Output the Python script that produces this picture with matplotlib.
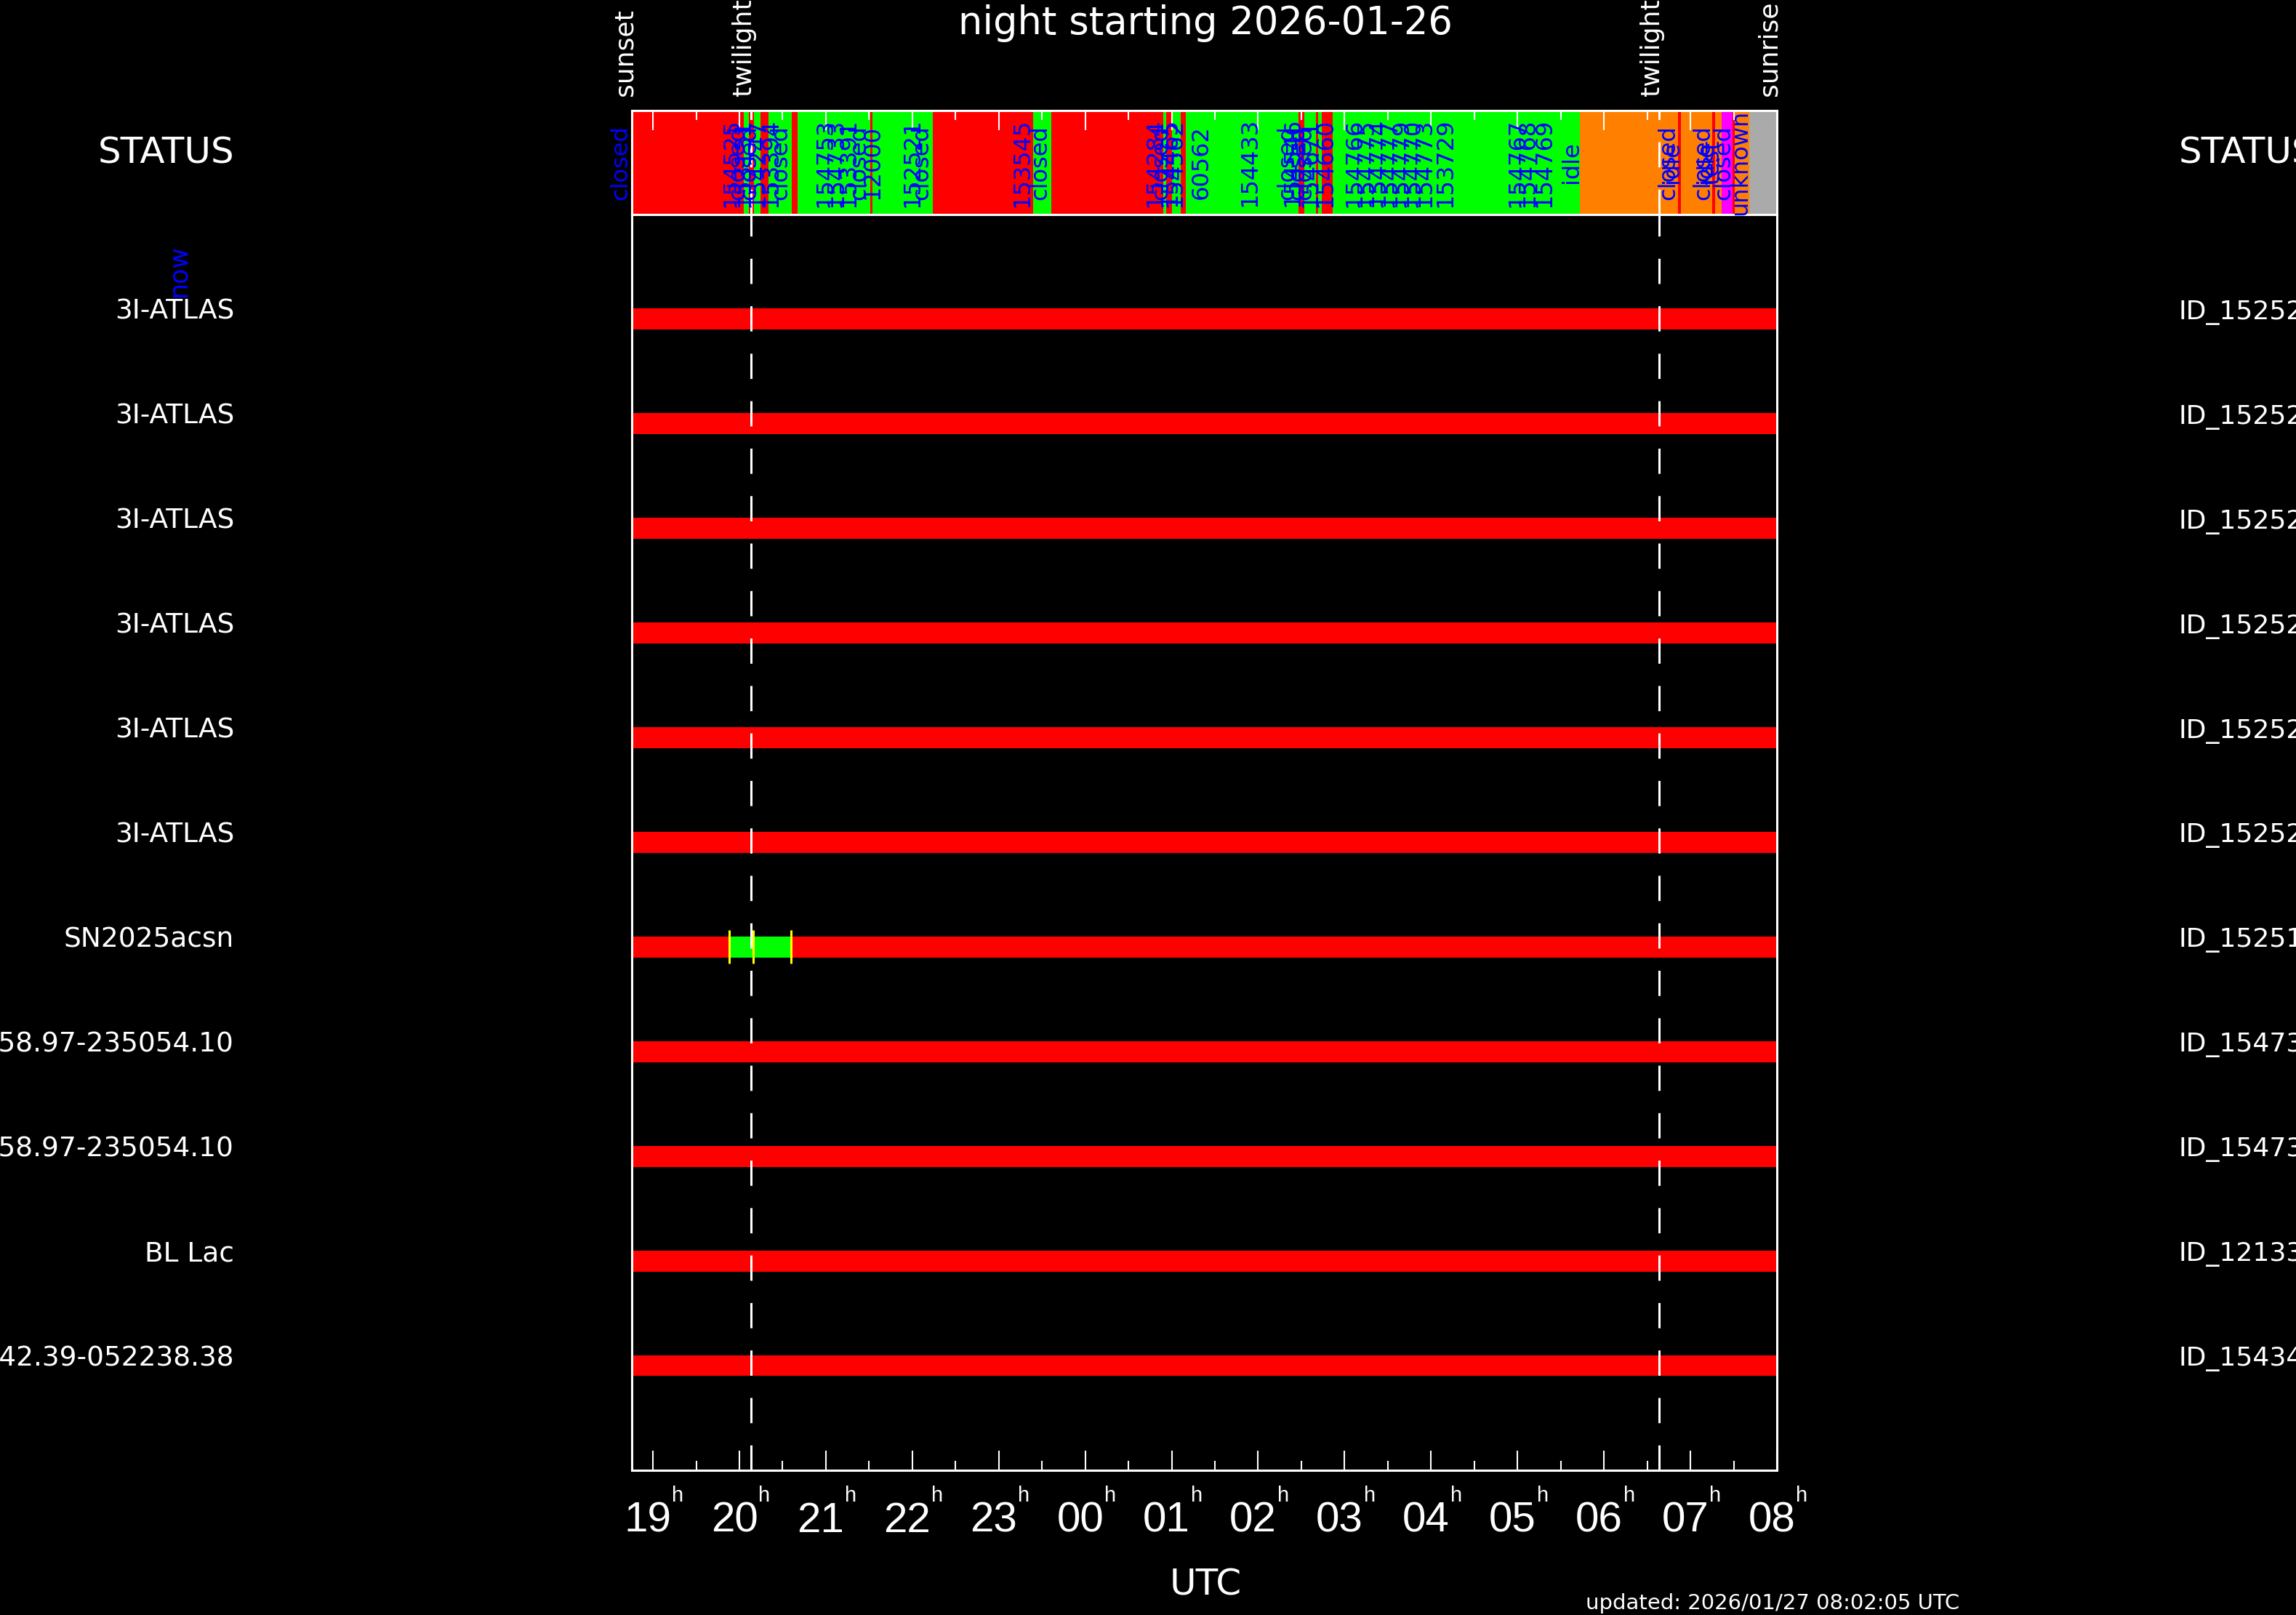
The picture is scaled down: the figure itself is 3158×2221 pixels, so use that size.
import numpy as np
import matplotlib.pyplot as plt
import matplotlib.transforms as mtransforms

plt.rcParams['font.family'] = ['DejaVu Sans']
plt.rcParams['lines.scale_dashes'] = False

night = '2026-01-26'
updated = '2026/01/27 08:02:05 UTC'

# times in hours UTC, values > 24 are after midnight
sunset = 18.756
sunrise = 32.0
twilight = [20.135, 30.64]

targets = ['3I-ATLAS'] * 6 + ['SN2025acsn', 'J012358.97-235054.10', 'J012358.97-235054.10',
                               'BL Lac', 'J053242.39-052238.38']
ids = ['ID_152521'] * 6 + ['ID_152512', 'ID_154731', 'ID_154731', 'ID_121337', 'ID_154345']

# the one target that got observed tonight
obs_row = 7
obs_start = 19.88
obs_end = 20.60
obs_marks = [19.88, 20.16, 20.60]

# telescope status log
status_start = [18.756, 20.049, 20.110, 20.169, 20.242, 20.340, 20.606, 20.676, 21.512, 21.540,
                22.241, 23.399, 23.609, 24.901, 24.938, 25.005, 25.106, 25.165, 26.469, 26.530,
                26.670, 26.698, 26.732, 26.864, 29.723, 30.859, 30.892, 31.254, 31.288, 31.364,
                31.490, 31.516, 31.684]
status_state = ['closed', 'obs', 'closed', 'obs', 'closed', 'obs', 'closed', 'obs', 'closed', 'obs',
                'closed', 'obs', 'closed', 'obs', 'closed', 'obs', 'closed', 'obs', 'closed', 'obs',
                'closed', 'obs', 'closed', 'obs', 'idle', 'closed', 'idle', 'closed', 'idle', 'test',
                'closed', 'idle', 'unknown']
state_colors = {'closed': '#ff0000', 'obs': '#00ff00', 'idle': '#ff8000',
                'test': '#ff00ff', 'unknown': '#aaaaaa'}

label_pos = [18.756, 20.049, 20.110, 20.169, 20.242, 20.340, 20.489, 20.606, 21.119, 21.245,
             21.388, 21.512, 21.666, 22.129, 22.241, 23.399, 23.609, 24.938, 25.005, 25.106,
             25.165, 25.476, 26.031, 26.469, 26.527, 26.586, 26.670, 26.729, 26.906, 27.242,
             27.377, 27.511, 27.646, 27.780, 27.915, 28.050, 28.294, 29.126, 29.244, 29.437,
             29.757, 30.876, 30.918, 31.279, 31.313, 31.389, 31.516, 31.709]
label_text = ['closed', '154525', 'closed', '153131', 'closed', '154247', '153394', 'closed', '154753', '154733',
              '153391', 'closed', '12000', '152521', 'closed', '153545', 'closed', '154284', 'closed', '154465',
              '154562', '60562', '154433', 'closed', '154546', 'closed', 'closed', '154671', '154660', '154766',
              '154775', '154774', '154777', '154779', '154770', '154773', '153729', '154767', '154768', '154769',
              'idle', 'closed', 'idle', 'closed', 'idle', 'test', 'closed', 'unknown']

hours = list(range(19, 33))
hour_labels = ['%02d' % (h % 24) for h in hours]

fig = plt.figure(figsize=(31.58, 22.21), dpi=100, facecolor='black')
ax = fig.add_axes([0.2752, 0.0896, 0.4987, 0.7776], facecolor='black')
sax = fig.add_axes([0.2752, 0.8672, 0.4987, 0.0644], facecolor='black')

# status bar
widths = np.diff(status_start + [sunrise])
sax.barh(0.5, widths, left=status_start, height=1.0,
         color=[state_colors[s] for s in status_state], zorder=1)
sax.set_xlim(sunset, sunrise)
sax.set_ylim(0, 1)
lab_tr = mtransforms.blended_transform_factory(sax.transData, sax.transAxes)
for x, s in zip(label_pos, label_text):
    sax.text(x, 0.5, s, transform=lab_tr, rotation=90, ha='right', va='center',
             color='#0000ff', fontsize=23, zorder=3)

# target rows
rows = np.arange(1, len(targets) + 1)
ax.barh(rows, sunrise - sunset, left=sunset, height=0.2, color='#ff0000', zorder=1)
ax.barh(obs_row, obs_end - obs_start, left=obs_start, height=0.2, color='#00ff00', zorder=2)
ax.vlines(obs_marks, obs_row - 0.16, obs_row + 0.16, color='#ffff00', lw=2.2, zorder=3)
ax.set_xlim(sunset, sunrise)
ax.set_ylim(len(targets) + 1, 0)
ax.set_yticks([])

for t in twilight:
    ax.axvline(t, color='white', lw=2.2, dashes=(25, 22), zorder=4)
    sax.axvline(t, color='white', lw=2.2, dashes=(25, 22), zorder=2)

for a in (ax, sax):
    for sp in a.spines.values():
        sp.set_color('white')
        sp.set_linewidth(2.2)
    a.set_xticks(hours)
    a.set_xticks([h + 0.5 for h in hours[:-1]], minor=True)
    a.tick_params(axis='x', which='both', direction='in', color='white', width=1.5,
                  labelbottom=False, labeltop=False)
    a.tick_params(axis='x', which='major', length=19.4)
    a.tick_params(axis='x', which='minor', length=9.4)
    a.set_yticks([])
ax.tick_params(axis='x', which='both', bottom=True, top=False)
sax.tick_params(axis='x', which='both', bottom=False, top=True)

# hour labels with small h
xtr = ax.get_xaxis_transform()
for h, lbl in zip(hours, hour_labels):
    ax.annotate(lbl, xy=(h, 0), xycoords=xtr, xytext=(-5, -61), textcoords='offset points',
                ha='center', va='baseline', color='white', fontsize=42, family='Liberation Sans')
    ax.annotate('h', xy=(h, 0), xycoords=xtr, xytext=(19, -31), textcoords='offset points',
                ha='left', va='baseline', color='white', fontsize=21, family='Liberation Sans')

# sunset / twilight / sunrise marks above the status bar
top_tr = mtransforms.blended_transform_factory(sax.transData, fig.transFigure)
for x, s in zip([sunset, twilight[0], twilight[1], sunrise], ['sunset', 'twilight', 'twilight', 'sunrise']):
    sax.text(x, 0.9406, s, transform=top_tr, rotation=90, rotation_mode='anchor',
             ha='left', va='baseline', color='white', fontsize=26)

# row labels left and right
row_tr = mtransforms.blended_transform_factory(fig.transFigure, ax.transData)
for r, name, oid in zip(rows, targets, ids):
    ax.text(0.102, r, name, transform=row_tr, ha='right', va='baseline', color='white', fontsize=27)
    ax.text(0.949, r, oid, transform=row_tr, ha='left', va='baseline', color='white', fontsize=26)

fig.text(0.102, 0.8987, 'STATUS', ha='right', va='baseline', color='white', fontsize=36)
fig.text(0.949, 0.8987, 'STATUS', ha='left', va='baseline', color='white', fontsize=36)
fig.text(0.083, 0.8163, 'now', rotation=90, ha='right', va='bottom', color='#0000ff', fontsize=25)

fig.text(0.525, 0.9788, 'night starting ' + night, ha='center', va='baseline', color='white', fontsize=38)
fig.text(0.525, 0.0126, 'UTC', ha='center', va='baseline', color='white', fontsize=36)
fig.text(0.6906, 0.0036, 'updated: ' + updated, ha='left', va='baseline', color='white', fontsize=21)

fig.savefig('out.png', dpi=100, facecolor='black')
